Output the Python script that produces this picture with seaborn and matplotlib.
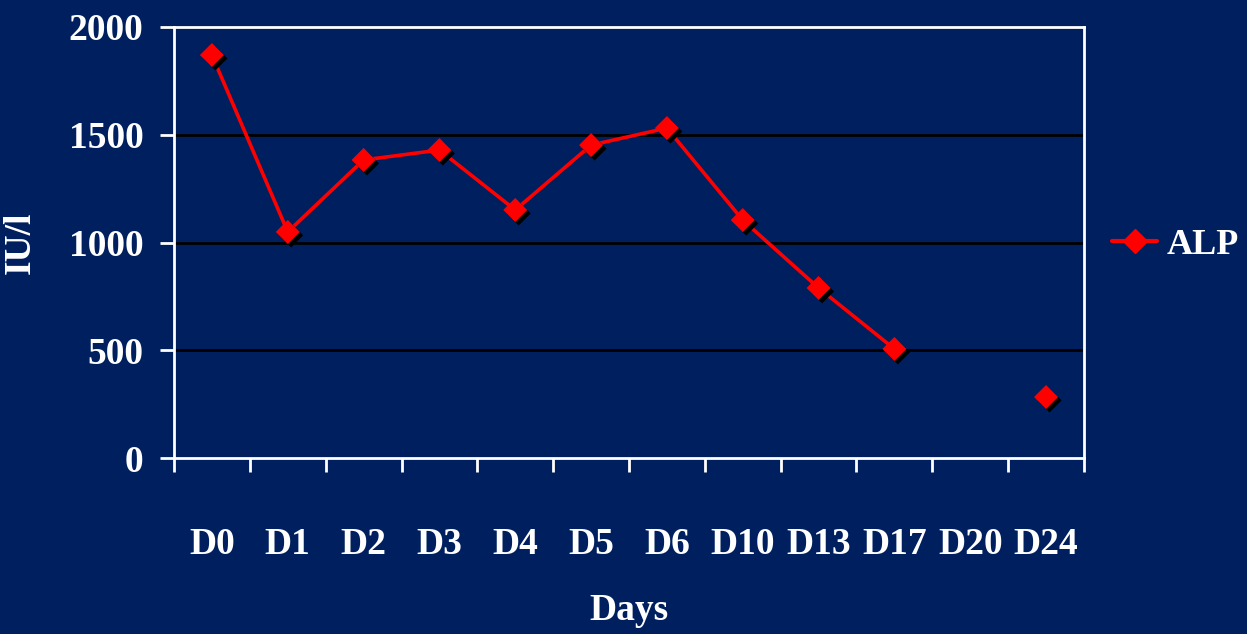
import numpy as np
import pandas as pd
import matplotlib
matplotlib.use('Agg')
import matplotlib.pyplot as plt
import matplotlib.patheffects as pe
from matplotlib.lines import Line2D
import seaborn as sns

# chart data
days = ['D0', 'D1', 'D2', 'D3', 'D4', 'D5', 'D6', 'D10', 'D13', 'D17', 'D20', 'D24']
alp = [1870, 1049, 1383, 1429, 1151, 1452, 1531, 1104, 789, 506, np.nan, 283]
y_ticks = [0, 500, 1000, 1500, 2000]

bg = '#001f5f'
red = '#ff0000'

sns.set_style('white')
plt.rcParams['font.family'] = ['Liberation Serif', 'DejaVu Serif']
plt.rcParams['font.weight'] = 'bold'

df = pd.DataFrame({'day': days, 'alp': alp})
df['pos'] = np.arange(len(days))

fig = plt.figure(figsize=(12.47, 6.34), dpi=100, facecolor=bg)
ax = fig.add_axes([174 / 1247, 1 - 458 / 634, 910 / 1247, 431 / 634])
ax.set_facecolor(bg)

# connected run (line breaks at the missing D20)
run = df.loc[:9]
sns.lineplot(data=run, x='pos', y='alp', color=red, linewidth=2.6, ax=ax, zorder=3)

# diamond markers with black drop shadow
pts = df.dropna()
sns.scatterplot(data=pts, x='pos', y='alp', marker='D', s=150, color=red,
                edgecolor=red, linewidth=0, ax=ax, zorder=4,
                path_effects=[pe.SimplePatchShadow(offset=(2.5, -2.5), shadow_rgbFace='black', alpha=1),
                              pe.Normal()])

ax.set_xlim(-0.5, len(days) - 0.5)
ax.set_ylim(0, 2000)
ax.set_yticks(y_ticks)
ax.set_yticklabels([str(v) for v in y_ticks])
ax.set_xticks(df['pos'])
ax.set_xticklabels(days)
ax.set_xticks(np.arange(len(days) + 1) - 0.5, minor=True)

for v in y_ticks[1:-1]:
    ax.axhline(v, color='black', linewidth=2, zorder=1)

for s in ax.spines.values():
    s.set_color('white')
    s.set_linewidth(2)

ax.tick_params(axis='x', which='major', length=0, pad=50, labelsize=27, colors='white')
ax.tick_params(axis='x', which='minor', length=10, width=2, color='white', direction='out', bottom=True)
ax.tick_params(axis='y', which='major', length=10, width=2, color='white', direction='out',
               left=True, pad=12, labelsize=27, labelcolor='white')
for lab in ax.get_xticklabels() + ax.get_yticklabels():
    lab.set_fontweight('bold')

ax.set_xlabel('Days', color='white', fontsize=27, fontweight='bold', labelpad=22)
ax.set_ylabel('IU/l', color='white', fontsize=27, fontweight='bold', labelpad=22)

handle = Line2D([0], [0], color=red, linewidth=3, marker='D', markersize=12)
leg = fig.legend([handle], ['ALP'], loc='center left', bbox_to_anchor=(1112 / 1247, 1 - 245 / 634),
                 frameon=False, fontsize=26, handlelength=1.25, handletextpad=0.25,
                 borderpad=0, borderaxespad=0)
for t in leg.get_texts():
    t.set_color('white')
    t.set_fontweight('bold')

fig.savefig('out.png', dpi=100, facecolor=bg)
